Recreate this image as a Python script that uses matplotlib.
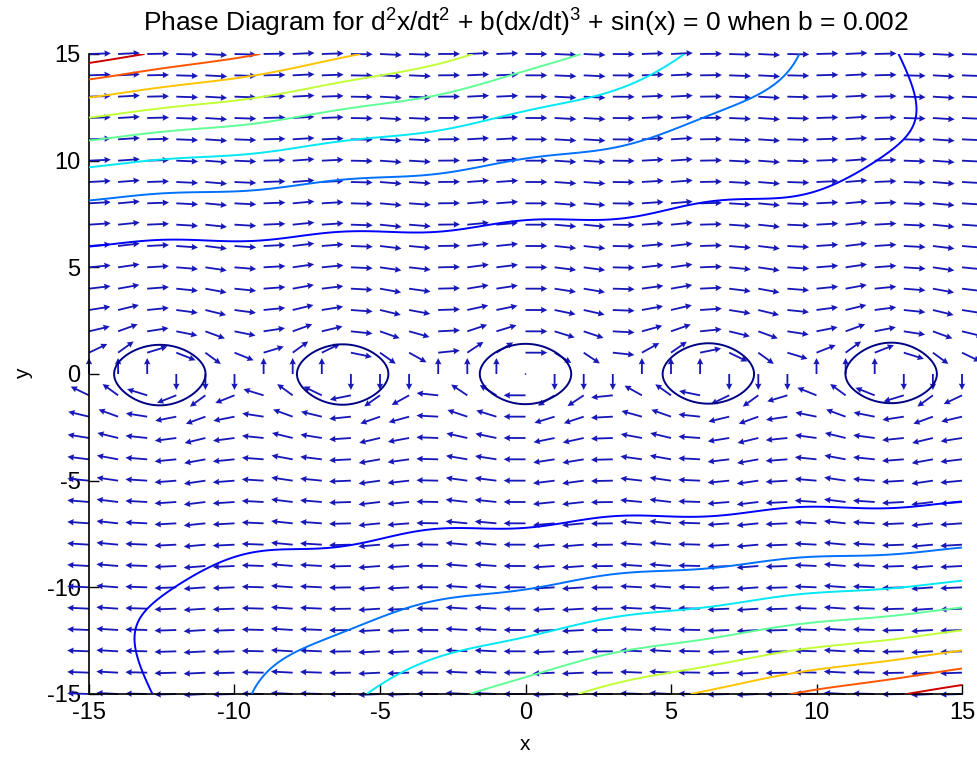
import numpy as np
import matplotlib
matplotlib.use("Agg")
import matplotlib.pyplot as plt

# equation parameter and plotting ranges
b = 0.002
x_range = [-15, 15]
y_range = [-15, 15]
quiver_step = 1.0
contour_levels = [0, 25, 50, 75, 100, 125, 150, 175, 200]
ticks = [-15, -10, -5, 0, 5, 10, 15]

plt.rcParams['font.family'] = ['Liberation Sans', 'DejaVu Sans']
plt.rcParams['mathtext.fontset'] = 'custom'
plt.rcParams['mathtext.rm'] = 'Liberation Sans'
plt.rcParams['mathtext.it'] = 'Liberation Sans'
plt.rcParams['axes.unicode_minus'] = False

fig = plt.figure(figsize=(9.77, 7.59), dpi=100)
ax = fig.add_axes([89 / 977, 1 - 694 / 759, (962 - 89) / 977, (694 - 54) / 759])

# direction field (normalised arrows, as drawn by the original quiver)
xq = np.arange(x_range[0], x_range[1] + quiver_step / 2, quiver_step)
yq = np.arange(y_range[0], y_range[1] + quiver_step / 2, quiver_step)
Xq, Yq = np.meshgrid(xq, yq)
U = Yq
V = -np.sin(Xq) - b * Yq
L = np.hypot(U, V)
L[L == 0] = 1
ax.quiver(Xq, Yq, U / L, V / L, angles='xy', scale_units='xy', scale=1 / 0.75,
          color='#1818b8', width=0.0021, headwidth=3.5, headlength=3.5,
          headaxislength=3.2, clip_on=False, zorder=2)

# contour of the approximate first integral
xc = np.linspace(x_range[0], x_range[1], 601)
yc = np.linspace(y_range[0], y_range[1], 601)
Xc, Yc = np.meshgrid(xc, yc)
Z = Yc ** 2 / 2 - np.cos(Xc) - b * Xc * Yc ** 3
ax.contour(Xc, Yc, Z, levels=contour_levels, cmap='jet',
           vmin=Z.min(), vmax=Z.max(), linewidths=1.4, zorder=3)

ax.set_xlim(x_range)
ax.set_ylim(y_range)
ax.set_xticks(ticks)
ax.set_yticks(ticks)
ax.tick_params(direction='in', length=7, width=1, labelsize=17, pad=6)
for s in ['top', 'right']:
    ax.spines[s].set_visible(False)
for s in ['left', 'bottom']:
    ax.spines[s].set_linewidth(1.2)

ax.set_xlabel('x', fontsize=15, labelpad=8)
ax.set_ylabel('y', fontsize=15, labelpad=10)
ax.set_title(r'Phase Diagram for d$^2$x/dt$^2$ + b(dx/dt)$^3$ + sin(x) = 0 when b = 0.002',
             fontsize=19, pad=16)

fig.savefig('out.png', dpi=100)
